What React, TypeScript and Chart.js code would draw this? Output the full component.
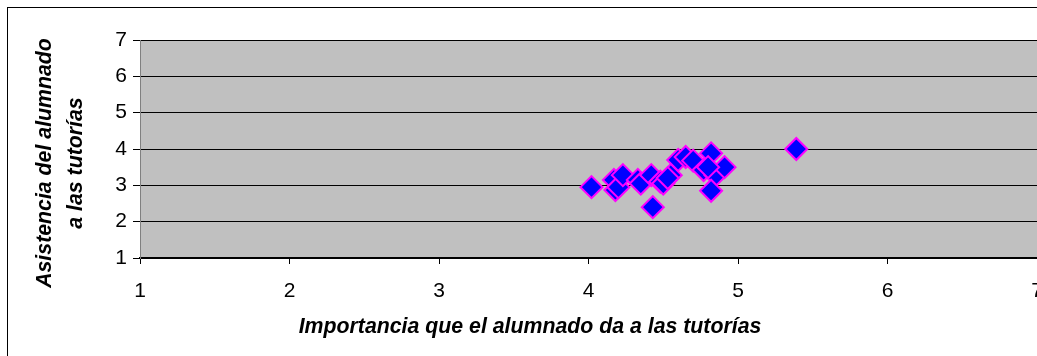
import React, { useEffect, useRef } from "react";
import { Chart, registerables } from "chart.js";

Chart.register(...registerables);

const xValues = [4.02, 4.17, 4.18, 4.2, 4.23, 4.33, 4.35, 4.42, 4.43, 4.48, 4.5, 4.55, 4.53, 4.6, 4.65, 4.7, 4.77, 4.82, 4.85, 4.82, 4.91, 4.8, 5.39];
const yValues = [2.95, 3.15, 2.87, 2.95, 3.28, 3.15, 3.05, 3.28, 2.4, 3.1, 3.05, 3.28, 3.2, 3.7, 3.78, 3.68, 3.42, 3.88, 3.28, 2.85, 3.5, 3.5, 4.0];
const xTitle = "Importancia que el alumnado da a las tutorías";
const yTitleLines = ["Asistencia del alumnado", "a las tutorías"];
const axisMin = 1;
const axisMax = 7;

const FONT = "'Liberation Sans', Arial, sans-serif";

export default function App() {
  const ref = useRef<HTMLCanvasElement | null>(null);
  useEffect(() => {
    const canvas = ref.current!;
    const W = 1060;
    const H = 370;
    const plotLeft = 140;
    const plotRight = 1037;
    const plotTop = 40;
    const plotBottom = 258;

    const decor = {
      id: "decor",
      beforeDraw(chart: any) {
        const ctx = chart.ctx;
        const a = chart.chartArea;
        ctx.save();
        ctx.fillStyle = "#ffffff";
        ctx.fillRect(0, 0, W, H);
        ctx.strokeStyle = "#000000";
        ctx.lineWidth = 1;
        ctx.strokeRect(7.5, 7.5, 1046, 360);
        ctx.fillStyle = "#C0C0C0";
        ctx.fillRect(a.left, a.top, a.right - a.left, a.bottom - a.top);
        ctx.restore();
      },
      afterDraw(chart: any) {
        const ctx = chart.ctx;
        ctx.save();
        ctx.fillStyle = "#000000";
        ctx.font = `italic bold 21.3px ${FONT}`;
        ctx.textAlign = "center";
        ctx.textBaseline = "middle";
        ctx.fillText(xTitle, 530, 327);
        ctx.translate(0, 163);
        ctx.rotate(-Math.PI / 2);
        ctx.fillText(yTitleLines[0], 0, 45);
        ctx.fillText(yTitleLines[1], 0, 76);
        ctx.restore();
      },
    };

    const chart = new Chart(canvas, {
      type: "scatter",
      data: {
        datasets: [
          {
            data: xValues.map((x, i) => ({ x, y: yValues[i] })),
            pointStyle: "rectRot",
            pointRadius: 11,
            pointHoverRadius: 11,
            backgroundColor: "#0000FF",
            borderColor: "#FF00FF",
            borderWidth: 2,
          },
        ],
      },
      options: {
        responsive: false,
        animation: false,
        events: [],
        layout: { padding: { left: 0, top: plotTop, right: W - plotRight, bottom: 0 } },
        plugins: { legend: { display: false }, tooltip: { enabled: false } },
        scales: {
          x: {
            type: "linear",
            min: axisMin,
            max: axisMax,
            afterFit(scale: any) {
              scale.height = H - plotBottom;
            },
            ticks: {
              stepSize: 1,
              color: "#000000",
              padding: 15,
              font: { family: FONT, size: 21 },
            },
            grid: {
              drawOnChartArea: false,
              drawTicks: true,
              tickLength: 6,
              color: "#000000",
            },
            border: { display: true, color: "#000000", width: 1.5 },
          },
          y: {
            type: "linear",
            min: axisMin,
            max: axisMax,
            afterFit(scale: any) {
              scale.width = plotLeft;
            },
            ticks: {
              stepSize: 1,
              color: "#000000",
              padding: 6,
              font: { family: FONT, size: 21 },
            },
            grid: {
              drawOnChartArea: true,
              drawTicks: true,
              tickLength: 7,
              color: "#000000",
              lineWidth: 1,
            },
            border: { display: true, color: "#808080", width: 1 },
          },
        },
      },
      plugins: [decor],
    });
    return () => chart.destroy();
  }, []);

  return (
    <div
      style={{
        position: "fixed",
        left: 0,
        top: 0,
        width: 1037,
        height: 356,
        overflow: "hidden",
        background: "#ffffff",
      }}
    >
      <canvas
        ref={ref}
        width={1060}
        height={370}
        style={{ position: "absolute", left: 0, top: 0, width: 1060, height: 370 }}
      />
    </div>
  );
}
